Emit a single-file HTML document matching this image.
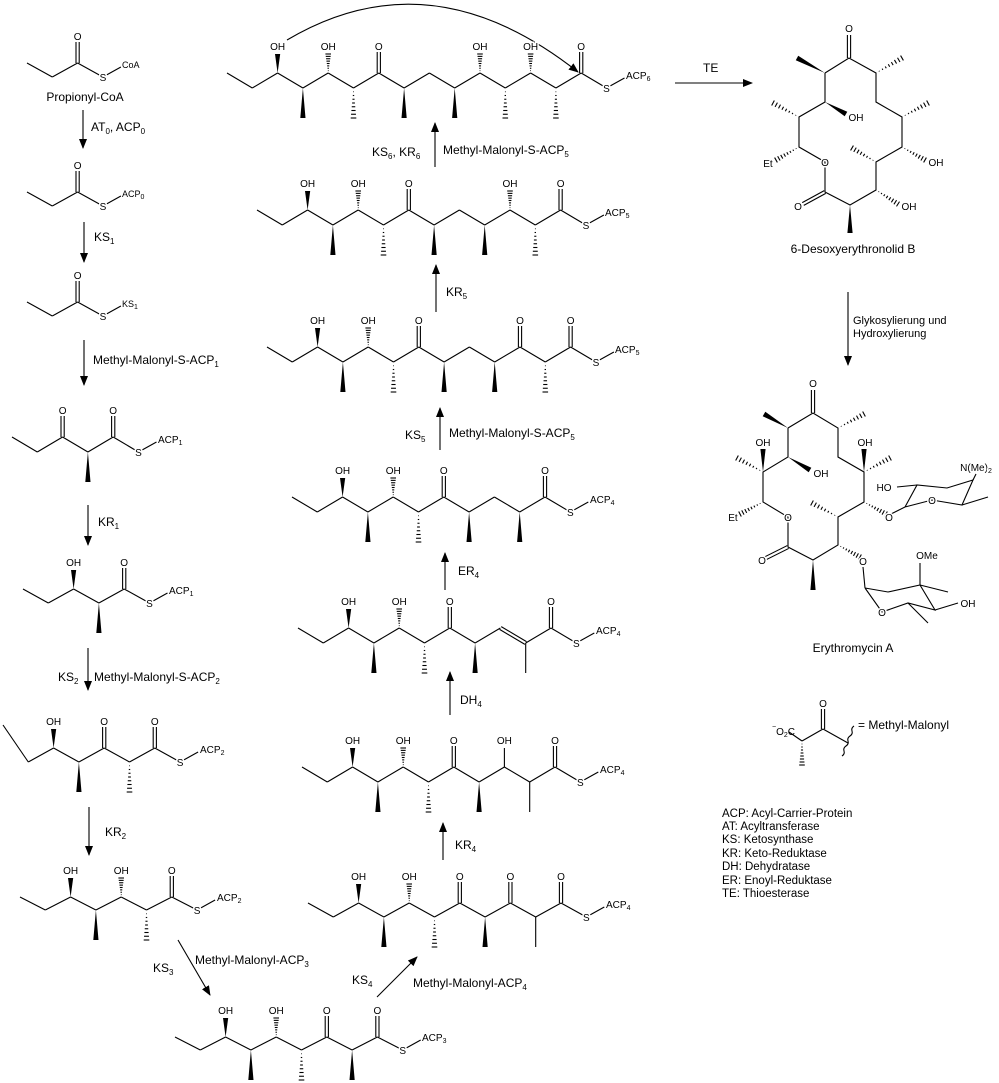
<!DOCTYPE html>
<html><head><meta charset="utf-8"><style>
html,body{margin:0;padding:0;background:#fff;}
svg{display:block;font-family:"Liberation Sans",Arial,sans-serif;}
.a{font-size:10px;text-anchor:middle;stroke:#fff;stroke-width:3px;paint-order:stroke;fill:#000;}
.l{font-size:10px;fill:#000;}
.t{font-size:12px;fill:#000;}
.s{font-size:11.5px;fill:#000;}
</style></head><body>
<svg id="sv" width="999" height="1083" viewBox="0 0 999 1083" xmlns="http://www.w3.org/2000/svg">
<defs><marker id="ah" markerWidth="10" markerHeight="8" refX="9" refY="4" orient="auto" markerUnits="userSpaceOnUse"><path d="M0,0 L10,4 L0,8 z" fill="#000"/></marker></defs>
<g id="g" stroke="#000" stroke-width="1.1" fill="none"></g>
<g stroke="#000" stroke-width="1.1" fill="none" marker-end="url(#ah)">
<line x1="83" y1="110" x2="83" y2="148"/>
<line x1="84" y1="222" x2="84" y2="262"/>
<line x1="84" y1="340" x2="84" y2="385"/>
<line x1="88" y1="505" x2="88" y2="545"/>
<line x1="88" y1="648" x2="88" y2="690"/>
<line x1="89" y1="807" x2="89" y2="855"/>
<line x1="178" y1="940" x2="210" y2="995"/>
<line x1="377" y1="997" x2="417" y2="957"/>
<line x1="443" y1="860" x2="443" y2="823"/>
<line x1="450" y1="715" x2="450" y2="672"/>
<line x1="445" y1="590" x2="445" y2="553"/>
<line x1="440" y1="450" x2="440" y2="408"/>
<line x1="436" y1="312" x2="436" y2="265"/>
<line x1="435" y1="167" x2="435" y2="123"/>
<line x1="675" y1="83" x2="752" y2="83"/>
<line x1="848" y1="292" x2="848" y2="365"/>
<path d="M287,40 Q430,-45 578,72"/>
</g>
<g class="t">
<text x="91" y="131">AT<tspan font-size="8" dy="3">0</tspan><tspan dy="-3">, ACP</tspan><tspan font-size="8" dy="3">0</tspan></text>
<text x="94" y="241">KS<tspan font-size="8" dy="3">1</tspan></text>
<text x="93" y="364">Methyl-Malonyl-S-ACP<tspan font-size="8" dy="3">1</tspan></text>
<text x="98" y="526">KR<tspan font-size="8" dy="3">1</tspan></text>
<text x="58" y="681">KS<tspan font-size="8" dy="3">2</tspan></text>
<text x="94" y="681">Methyl-Malonyl-S-ACP<tspan font-size="8" dy="3">2</tspan></text>
<text x="105" y="836">KR<tspan font-size="8" dy="3">2</tspan></text>
<text x="153" y="972">KS<tspan font-size="8" dy="3">3</tspan></text>
<text x="195" y="964">Methyl-Malonyl-ACP<tspan font-size="8" dy="3">3</tspan></text>
<text x="352" y="984">KS<tspan font-size="8" dy="3">4</tspan></text>
<text x="413" y="987">Methyl-Malonyl-ACP<tspan font-size="8" dy="3">4</tspan></text>
<text x="455" y="849">KR<tspan font-size="8" dy="3">4</tspan></text>
<text x="460" y="704">DH<tspan font-size="8" dy="3">4</tspan></text>
<text x="458" y="575">ER<tspan font-size="8" dy="3">4</tspan></text>
<text x="405" y="439">KS<tspan font-size="8" dy="3">5</tspan></text>
<text x="449" y="437">Methyl-Malonyl-S-ACP<tspan font-size="8" dy="3">5</tspan></text>
<text x="446" y="296">KR<tspan font-size="8" dy="3">5</tspan></text>
<text x="372" y="156">KS<tspan font-size="8" dy="3">6</tspan><tspan dy="-3">, KR</tspan><tspan font-size="8" dy="3">6</tspan></text>
<text x="443" y="154">Methyl-Malonyl-S-ACP<tspan font-size="8" dy="3">5</tspan></text>
<text x="703" y="72">TE</text>
<text x="853" y="324" font-size="11">Glykosylierung und</text>
<text x="853" y="337" font-size="11">Hydroxylierung</text>
<text x="85" y="101" text-anchor="middle">Propionyl-CoA</text>
<text x="853" y="253" text-anchor="middle">6-Desoxyerythronolid B</text>
<text x="853" y="652" text-anchor="middle">Erythromycin A</text>
<text x="858" y="729">= Methyl-Malonyl</text>
</g>
<g class="s">
<text x="722" y="817">ACP: Acyl-Carrier-Protein</text>
<text x="722" y="830">AT: Acyltransferase</text>
<text x="722" y="843">KS: Ketosynthase</text>
<text x="722" y="857">KR: Keto-Reduktase</text>
<text x="722" y="870">DH: Dehydratase</text>
<text x="722" y="884">ER: Enoyl-Reduktase</text>
<text x="722" y="897">TE: Thioesterase</text>
</g>
<g class="a">
<text x="77.6" y="40">O</text><text x="102.9" y="81">S</text>
<text x="77.6" y="169">O</text><text x="102.9" y="210">S</text>
<text x="77.6" y="279">O</text><text x="102.9" y="320">S</text>
<text x="62.6" y="414">O</text><text x="113.2" y="414">O</text><text x="138.5" y="456">S</text>
<text x="73.6" y="566">OH</text><text x="124.2" y="566">O</text><text x="149.5" y="607">S</text>
<text x="53.6" y="725">OH</text><text x="104.2" y="725">O</text><text x="154.8" y="725">O</text><text x="180.1" y="766">S</text>
<text x="70.6" y="874">OH</text><text x="121.2" y="874">OH</text><text x="171.8" y="874">O</text><text x="197.1" y="914">S</text>
<text x="225.6" y="1014">OH</text><text x="276.2" y="1014">OH</text><text x="326.8" y="1014">O</text><text x="377.4" y="1014">O</text><text x="402.7" y="1054">S</text>
<text x="358.6" y="880">OH</text><text x="409.2" y="880">OH</text><text x="459.8" y="880">O</text><text x="510.4" y="880">O</text><text x="561" y="880">O</text><text x="586.3" y="921">S</text>
<text x="352.6" y="744">OH</text><text x="403.2" y="744">OH</text><text x="453.8" y="744">O</text><text x="504.4" y="744">OH</text><text x="555" y="744">O</text><text x="580.3" y="786">S</text>
<text x="348.6" y="605">OH</text><text x="399.2" y="605">OH</text><text x="449.8" y="605">O</text><text x="551" y="605">O</text><text x="576.3" y="647">S</text>
<text x="342.6" y="474">OH</text><text x="393.2" y="474">OH</text><text x="443.8" y="474">O</text><text x="545" y="474">O</text><text x="570.3" y="516">S</text>
<text x="317.6" y="324">OH</text><text x="368.2" y="324">OH</text><text x="418.8" y="324">O</text><text x="520" y="324">O</text><text x="570.6" y="324">O</text><text x="595.9" y="366">S</text>
<text x="307.6" y="187">OH</text><text x="358.2" y="187">OH</text><text x="408.8" y="187">O</text><text x="510" y="187">OH</text><text x="560.6" y="187">O</text><text x="585.9" y="229">S</text>
<text x="277.6" y="50">OH</text><text x="328.2" y="50">OH</text><text x="378.8" y="50">O</text><text x="480" y="50">OH</text><text x="530.6" y="50">OH</text><text x="581.2" y="50">O</text><text x="606.5" y="92">S</text>
<text x="849" y="32">O</text><text x="825" y="166">O</text><text x="798" y="210">O</text>
<text x="856" y="121">OH</text><text x="768" y="167">Et</text><text x="936" y="166">OH</text><text x="909" y="210">OH</text>
<text x="813" y="387">O</text><text x="788" y="521">O</text><text x="762" y="564">O</text>
<text x="763" y="446">OH</text><text x="821" y="477">OH</text><text x="865" y="446">OH</text><text x="733" y="521">Et</text>
<text x="889" y="521">O</text><text x="863" y="565">O</text><text x="932" y="504">O</text><text x="882" y="616">O</text>
<text x="884" y="491">HO</text><text x="976" y="471">N(Me)<tspan font-size="7" dy="2">2</tspan></text>
<text x="927" y="559">OMe</text><text x="968" y="607">OH</text>
<text x="823" y="707">O</text>
</g>
<g class="l">
<text x="122" y="68" font-size="9">CoA</text>
<text x="122" y="197" font-size="9">ACP<tspan font-size="7" dy="2">0</tspan></text>
<text x="122" y="307" font-size="9">KS<tspan font-size="7" dy="2">1</tspan></text>
<text x="158" y="443">ACP<tspan font-size="7" dy="2">1</tspan></text>
<text x="169" y="594">ACP<tspan font-size="7" dy="2">1</tspan></text>
<text x="200" y="753">ACP<tspan font-size="7" dy="2">2</tspan></text>
<text x="217" y="901">ACP<tspan font-size="7" dy="2">2</tspan></text>
<text x="422" y="1041">ACP<tspan font-size="7" dy="2">3</tspan></text>
<text x="606" y="908">ACP<tspan font-size="7" dy="2">4</tspan></text>
<text x="600" y="773">ACP<tspan font-size="7" dy="2">4</tspan></text>
<text x="596" y="634">ACP<tspan font-size="7" dy="2">4</tspan></text>
<text x="590" y="503">ACP<tspan font-size="7" dy="2">4</tspan></text>
<text x="615" y="353">ACP<tspan font-size="7" dy="2">5</tspan></text>
<text x="605" y="216">ACP<tspan font-size="7" dy="2">5</tspan></text>
<text x="626" y="79">ACP<tspan font-size="7" dy="2">6</tspan></text>
<text x="772" y="733"><tspan font-size="7" dy="-4">−</tspan><tspan dy="6">O</tspan><tspan font-size="7" dy="2">2</tspan><tspan dy="-2">C</tspan></text>
</g>
</svg>
<script>
var G=document.getElementById('g'),NS='http://www.w3.org/2000/svg';
function el(n,a){var e=document.createElementNS(NS,n);for(var k in a)e.setAttribute(k,a[k]);G.appendChild(e);return e;}
function L(a,b,c,d){el('line',{x1:a,y1:b,x2:c,y2:d});}
function W(a,b,c,d){var dx=c-a,dy=d-b,l=Math.hypot(dx,dy),px=-dy/l*2.6,py=dx/l*2.6;el('polygon',{points:a+','+b+' '+(c+px)+','+(d+py)+' '+(c-px)+','+(d-py),fill:'#000',stroke:'none'});}
function H(a,b,c,d){var dx=c-a,dy=d-b,l=Math.hypot(dx,dy),ux=-dy/l,uy=dx/l,n=8;for(var i=1;i<=n;i++){var t=i/n,x=a+dx*t,y=b+dy*t,w=2.8*t;L(x+ux*w,y+uy*w,x-ux*w,y-uy*w);}}
function D(a,b,c,d){var dx=c-a,dy=d-b,l=Math.hypot(dx,dy),px=-dy/l*1.6,py=dx/l*1.6;L(a+px,b+py,c+px,d+py);L(a-px,b-py,c-px,d-py);}
function P(p){el('polyline',{points:p});}
function mol(x0,yH,yL,codes,y0){var st=25.3,n=codes.length,pts=[];for(var i=0;i<=n;i++)pts.push([x0+i*st,i%2?yL:yH]);if(y0!==undefined)pts[0][1]=y0;
for(var i=0;i<n;i++){var p=pts[i],q=pts[i+1],c=codes[i];if(c=='=')D(p[0],p[1],q[0],q[1]);else L(p[0],p[1],q[0],q[1]);
var x=p[0],y=p[1];if(c=='w')W(x,y,x,y-19);else if(c=='h')H(x,y,x,y-19);else if(c=='p')L(x,y,x,y-19);else if(c=='O')D(x,y,x,y-21);
else if(c=='W')W(x,y,x,y+30);else if(c=='H')H(x,y,x,y+30);else if(c=='P')L(x,y,x,y+30);}
var s=pts[n];L(s[0],s[1],s[0]+18,s[1]-10);}
mol(27,63,77,'--O');
mol(27,192,206,'--O');
mol(27,302,316,'--O');
mol(12,437,452,'--OWO');
mol(23,589,603,'--wWO');
mol(3,748,762,'--wWOHO',725);
mol(20,897,910,'--wWhHO');
mol(175,1037,1050,'--wWhHOWO');
mol(308,903,917,'--wWhHOWOPO');
mol(302,767,782,'--wWhHOWpPO');
mol(298,628,643,'--wWhHOW=PO');
mol(292,497,512,'--wWhHOW-WO');
mol(267,347,362,'--wWhHOW-WOHO');
mol(257,210,225,'--wWhHOW-WhHO');
mol(227,73,88,'--wWhHOW-WhHhHO');
P('825,73 849,58 876,73 876,102 902,117 902,147 876,162 876,190 850,205 825,192 825,162 799,147 799,117 825,102 825,73');
D(849,58,849,35);D(825,192,803,204);
W(825,73,797,58);H(876,73,902,58);W(825,102,846,114);H(799,117,773,103);H(799,147,776,160);
H(902,117,928,103);H(902,147,925,160);H(876,162,852,148);H(876,190,898,204);W(850,205,850,233);
P('788,428 813,413 838,428 838,457 864,472 864,502 838,517 838,545 813,560 788,547 788,517 763,502 763,472 788,457 788,428');
D(813,413,813,390);D(788,547,766,558);
W(788,428,764,414);H(838,428,864,414);W(763,472,763,449);H(763,472,737,458);W(788,457,810,470);
W(864,472,864,449);H(864,472,890,458);H(763,502,740,514);H(864,502,886,514);H(838,517,812,503);H(838,545,860,557);W(813,560,813,590);
L(889,515,905,507);P('905,507 917,485 947,488 973,480 962,505 932,500 905,507');L(917,485,897,487);L(973,480,976,474);L(962,505,988,497);
L(863,567,865,588);P('865,588 888,592 920,585 935,610 908,603 882,612 865,588');L(920,585,920,563);L(920,585,948,592);L(935,610,958,603);L(908,603,928,623);
L(789,732,802,741);H(802,741,802,765);L(802,741,823,729);D(823,729,823,709);L(823,729,848,743);
el('path',{d:'M842,756 q3,-2 2,-5 q-1,-3 2,-5 q3,-2 2,-5 q-1,-3 2,-5 q3,-2 2,-5 q-1,-3 2,-5'});
</script>
</body></html>
